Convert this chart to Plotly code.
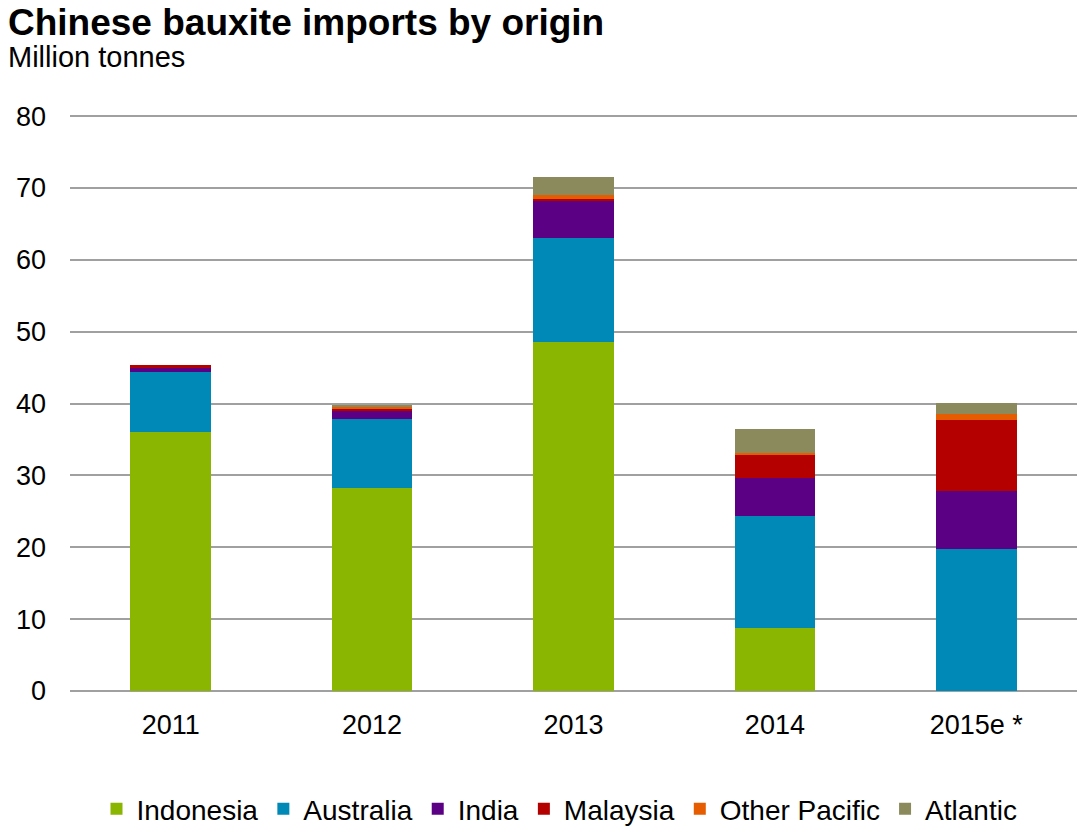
import plotly.graph_objects as go

# Chinese bauxite imports by origin, million tonnes
years = ["2011", "2012", "2013", "2014", "2015e *"]

indonesia = [36.1, 28.3, 48.6, 8.8, 0.0]
australia = [8.3, 9.5, 14.4, 15.6, 19.7]
india = [0.6, 1.3, 5.3, 5.2, 8.2]
malaysia = [0.3, 0.1, 0.2, 3.2, 9.8]
other_pacific = [0.0, 0.4, 0.5, 0.3, 0.8]
atlantic = [0.0, 0.25, 2.5, 3.4, 1.6]

series = [
    ("Indonesia", indonesia, "#8AB500"),
    ("Australia", australia, "#0089B6"),
    ("India", india, "#5B0084"),
    ("Malaysia", malaysia, "#B50000"),
    ("Other Pacific", other_pacific, "#E65C00"),
    ("Atlantic", atlantic, "#8A8A5C"),
]

FONT = "Liberation Sans, Arial, sans-serif"

fig = go.Figure()
for name, values, color in series:
    fig.add_trace(go.Bar(
        x=years, y=values, name=name,
        marker=dict(color=color, line=dict(width=0)),
    ))

fig.update_layout(
    width=1077, height=834,
    barmode="stack", bargap=0.6,
    plot_bgcolor="white", paper_bgcolor="white",
    margin=dict(l=70, r=0, t=115, b=143, autoexpand=False),
    font=dict(family=FONT, size=27, color="black"),
    showlegend=True,
    legend=dict(
        orientation="h", xref="container", yref="container",
        x=559.5 / 1077, xanchor="center", y=-0.008, yanchor="bottom",
        font=dict(size=28), itemwidth=30, traceorder="normal",
    ),
    xaxis=dict(
        showgrid=False, showline=False, ticks="",
        ticklabelstandoff=15, tickfont=dict(size=27),
    ),
    yaxis=dict(
        range=[0, 80.15], dtick=10, showgrid=True, gridcolor="#A0A0A0", gridwidth=2,
        zeroline=True, zerolinecolor="#A0A0A0", zerolinewidth=2,
        showline=False, ticks="", ticklabelstandoff=23, tickfont=dict(size=27),
    ),
    annotations=[
        dict(text="<b>Chinese bauxite imports by origin</b>", xref="paper", yref="paper",
             x=0, xshift=-64, y=(691 - 22) / 576, xanchor="left", yanchor="middle",
             showarrow=False, font=dict(size=37, family=FONT)),
        dict(text="Million tonnes", xref="paper", yref="paper",
             x=0, xshift=-64, y=(691 - 57) / 576, xanchor="left", yanchor="middle",
             showarrow=False, font=dict(size=29, family=FONT)),
    ],
)

fig.write_html("out.html")
